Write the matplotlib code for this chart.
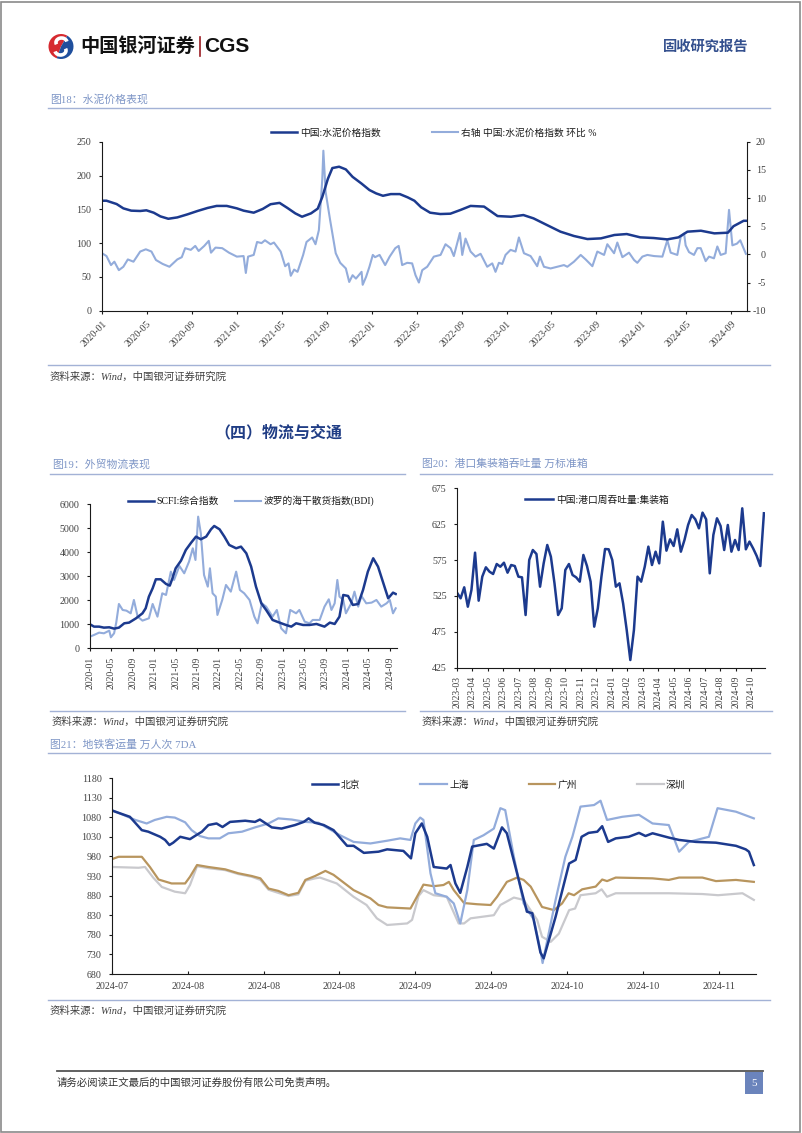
import matplotlib
matplotlib.use('Agg')
import matplotlib.pyplot as plt
from matplotlib.patches import Rectangle, Wedge, Arc
from matplotlib.lines import Line2D

plt.rcParams['font.family'] = ['Liberation Serif', 'Noto Sans CJK SC']
plt.rcParams['axes.unicode_minus'] = False

# ---------------- data ----------------
# fig 18: cement price index (months since 2020-01) and week-on-week change %
cement_idx = [(0, 162.7), (0.4, 162.7), (1.3, 157.8), (1.9, 151.4), (2.6, 148), (3.4, 147.5), (3.95, 148.5),
              (4.6, 145), (5.2, 139.5), (5.9, 136), (6.7, 138), (7.6, 142.5), (8.5, 147.5), (9.4, 152),
              (10.2, 155), (11.1, 155), (12.0, 151.4), (12.6, 148), (13.5, 145), (14.3, 150.5), (15, 157.5),
              (15.8, 159.5), (16.5, 152), (17.2, 144), (17.8, 139), (18.6, 144), (19.2, 151), (19.6, 168),
              (20.1, 195), (20.5, 211), (21.1, 213), (21.7, 209), (22.3, 198), (23.1, 188), (23.8, 178.5),
              (24.4, 173.5), (25, 170), (25.7, 172.5), (26.5, 172.5), (27.2, 167.7), (27.8, 162.7), (28.4, 153),
              (29.2, 145), (30.1, 143), (31, 143.5), (31.9, 149), (32.8, 155), (34, 154), (35.2, 140),
              (36.4, 139), (37.5, 141.5), (38.4, 136.6), (39.6, 126.7), (40.8, 116.9), (42, 110.5), (43.2, 106),
              (44.4, 107), (45.6, 112), (46.7, 113.4), (47.9, 108.5), (49.1, 107.5), (50.3, 105.5), (51.3, 108.5),
              (52.1, 116.9), (53.3, 118.3), (54.5, 114.4), (55.7, 115.4), (56.2, 125), (57.1, 133), (57.4, 133)]
cement_mom = [(0, 0.2), (0.4, -0.3), (0.8, -1.9), (1.1, -1.3), (1.5, -2.8), (1.9, -2.2), (2.3, -0.9), (2.8, -1.3),
              (3.4, 0.5), (3.9, 0.9), (4.4, 0.5), (4.8, -1.0), (5.4, -1.7), (6.0, -2.2), (6.7, -0.9), (7.1, -0.5),
              (7.4, 1.1), (7.9, 0.8), (8.3, 1.5), (8.6, 0.6), (9.1, 1.5), (9.5, 2.4), (9.7, 0.3), (10.1, 1.2),
              (10.7, 1.1), (11.3, 0.3), (12, -0.4), (12.6, -0.3), (12.8, -3.3), (13, -0.4), (13.5, -0.1),
              (13.8, 2.2), (14.2, 2.0), (14.5, 2.5), (15, 1.8), (15.3, 2.1), (15.9, 0.5), (16.3, -2.1),
              (16.6, -1.6), (16.8, -3.8), (17.1, -2.7), (17.4, -3.1), (17.9, -0.1), (18.2, 2.2), (18.7, 3.0),
              (19, 1.8), (19.3, 4.3), (19.6, 13.2), (19.7, 18.4), (19.9, 11.1), (20.3, 6.1), (20.8, 0.2),
              (21.2, -1.5), (21.7, -2.5), (22, -4.9), (22.3, -3.7), (22.6, -4.3), (23.1, -3.1), (23.2, -5.4),
              (23.5, -4.0), (23.8, -2.2), (24.1, -0.1), (24.3, -0.5), (24.7, -0.1), (25.2, -1.9), (25.6, -0.4),
              (26.1, 1.1), (26.4, 1.5), (26.56, -0.1), (26.71, -1.9), (27.16, -1.5), (27.6, -1.6), (27.9, -3.7),
              (28.2, -5.0), (28.5, -2.8), (28.94, -2.2), (29.53, -0.4), (30.13, -0.1), (30.57, 1.8), (31.02, 1.1),
              (31.31, -0.3), (31.85, 3.8), (32.06, -0.1), (32.35, 2.8), (32.8, 0.5), (33.24, -0.4), (33.69, 0.1),
              (34.28, -2.2), (34.73, -1.6), (35.02, -3.1), (35.32, -1.5), (35.62, -1.7), (35.91, -0.1),
              (36.36, 0.8), (36.8, 0.5), (37.1, 3.0), (37.55, 0.2), (38.14, -0.3), (38.73, -2.1), (38.97, -0.4),
              (39.33, -2.2), (39.92, -2.5), (40.52, -2.2), (41.11, -1.9), (41.41, -2.2), (42.0, -1.3),
              (42.6, -0.1), (43.04, -0.9), (43.64, -2.1), (44.08, 0.5), (44.68, -0.1), (44.97, 1.8), (45.57, 0.2),
              (45.86, 2.1), (46.31, -0.5), (46.9, 0.3), (47.35, -1.0), (47.64, -1.5), (48.09, -0.4), (48.53, -0.1),
              (49.13, -0.3), (49.87, -0.4), (50.31, 2.5), (50.61, 0.3), (51.2, -0.1), (51.5, 3.1), (51.8, 3.7),
              (51.94, 1.6), (52.24, 0.4), (52.68, -0.1), (52.98, 1.1), (53.28, 1.1), (53.72, -1.2), (54.02, -0.4),
              (54.46, -0.7), (54.76, 1.4), (55.06, -0.1), (55.5, 0.2), (55.8, 7.9), (56.1, 1.6), (56.5, 1.9),
              (56.8, 2.5), (57.3, 0.1)]
month_ticks = ['2020-01', '2020-05', '2020-09', '2021-01', '2021-05', '2021-09', '2022-01', '2022-05',
               '2022-09', '2023-01', '2023-05', '2023-09', '2024-01', '2024-05', '2024-09']

# fig 19: SCFI and BDI (months since 2020-01)
scfi = [(0, 1000), (0.75, 903), (1.7, 903), (2.6, 861), (3.6, 875), (4.5, 820), (5.4, 861), (6.4, 1042),
        (7.3, 1070), (8.6, 1250), (9.8, 1458), (10.4, 1667), (11, 2153), (11.7, 2500), (12.3, 2875),
        (13.2, 2875), (14.2, 2681), (14.9, 2611), (15.4, 2917), (16, 3333), (17, 3653), (17.9, 4097),
        (18.9, 4403), (19.8, 4653), (20.7, 4542), (21.7, 4653), (22.6, 4958), (23.2, 5097), (24.2, 4958),
        (25.1, 4653), (26, 4306), (27.3, 4167), (28.2, 4236), (29.2, 3958), (30.1, 3403), (31, 2570),
        (32, 1875), (32.9, 1597), (34.1, 1181), (35.4, 1070), (36.6, 972), (37.6, 903), (38.5, 1042),
        (39.8, 972), (41, 972), (42.3, 1014), (43.8, 903), (44.8, 1070), (45.7, 1014), (46.6, 1319),
        (47.3, 2222), (48.2, 2181), (49.1, 1806), (50.1, 1847), (51, 2431), (51.9, 3194), (52.9, 3750),
        (53.8, 3403), (54.7, 2778), (55.7, 2083), (56.6, 2319), (57.1, 2264)]
bdi = [(0, 486), (0.75, 556), (1.7, 653), (2.6, 625), (3.6, 736), (3.9, 458), (4.5, 625), (4.9, 1070),
       (5.4, 1847), (6.1, 1597), (6.8, 1569), (7.6, 1458), (8.2, 2014), (8.9, 1319), (9.8, 1153), (11, 1250),
       (11.7, 1847), (12.6, 1319), (13.5, 2292), (14.2, 2222), (15.1, 3194), (15.7, 2847), (16.7, 3431),
       (17.6, 3125), (18.5, 3611), (19.2, 4167), (19.7, 3681), (20.2, 5486), (20.7, 4792), (21.3, 3056),
       (22, 2569), (22.4, 3333), (22.9, 2292), (23.5, 2153), (23.8, 1389), (24.7, 2014), (25.4, 2639),
       (26.3, 2361), (27.3, 3194), (28, 2431), (28.8, 2292), (29.8, 2014), (30.7, 1319), (31.3, 1042),
       (32.1, 1875), (32.9, 1736), (34.1, 1319), (34.9, 1597), (35.7, 833), (36.6, 625), (37.4, 1597),
       (38.5, 1458), (39.1, 1597), (40.1, 1111), (41, 1042), (41.6, 1181), (42.9, 1181), (43.8, 1736),
       (44.6, 2042), (45.1, 1597), (45.7, 1875), (46.2, 2847), (46.6, 2153), (47.3, 2014), (47.8, 1458),
       (48.8, 1875), (49.4, 2361), (50.1, 1736), (50.7, 2181), (51.6, 1875), (52.6, 1903), (53.5, 2014),
       (54.4, 1736), (55.4, 1875), (56, 2014), (56.6, 1458), (57.1, 1667)]

# fig 20: weekly container throughput, 2023-03 .. 2024-10
port_weekly = [529.6, 521.7, 537.0, 510.0, 533.3, 585.3, 518.4, 551.9, 564.9, 558.8, 555.6, 569.5, 565.7,
               571.3, 557.4, 568.1, 566.7, 551.9, 550.9, 498.4, 575.1, 589.0, 583.5, 537.9, 570.4, 596.0,
               579.7, 542.6, 498.4, 507.7, 561.2, 569.5, 554.2, 550.9, 544.9, 582.1, 566.7, 544.9, 482.2,
               507.7, 551.9, 590.4, 590.0, 575.1, 537.9, 542.6, 514.7, 477.5, 435.7, 477.5, 551.9, 544.9,
               565.8, 593.7, 568.1, 586.7, 570.4, 628.5, 588.1, 603.9, 594.6, 617.8, 586.7, 603.0, 623.9,
               637.8, 631.8, 619.2, 641.1, 631.8, 556.5, 610.0, 633.2, 622.5, 589.0, 623.9, 586.7, 603.0,
               589.0, 647.1, 590.0, 600.7, 591.4, 580.7, 566.7, 640.2]
port_ticks = ['2023-03', '2023-04', '2023-05', '2023-06', '2023-07', '2023-08', '2023-09', '2023-10',
              '2023-11', '2023-12', '2024-01', '2024-02', '2024-03', '2024-04', '2024-05', '2024-06',
              '2024-07', '2024-08', '2024-09', '2024-10']

# fig 21: metro ridership 7DA (days from first point)
beijing = [(0, 1097), (3.3, 1081), (5.5, 1047), (6.7, 1043), (8.9, 1030), (9.8, 1022), (10.6, 1009),
           (11.3, 1015), (12.6, 1030), (14.4, 1024), (15.3, 1032), (16.6, 1043), (17.8, 1060), (19.3, 1064),
           (20.4, 1055), (21.8, 1068), (24.6, 1071), (26.4, 1068), (27.3, 1074), (28.3, 1065), (29.5, 1054),
           (31.3, 1051), (33.8, 1060), (35.4, 1068), (36.3, 1077), (37.4, 1066), (39.1, 1060), (40.9, 1047),
           (43.4, 1007), (44.6, 1007), (46.5, 989), (49.2, 992), (50.8, 998), (53.8, 994), (55.2, 975),
           (56, 1039), (57.2, 1064), (58.2, 1030), (59.4, 953), (61.8, 949), (62.5, 958), (63.4, 911),
           (64.3, 887), (65.6, 953), (66.5, 1005), (69.2, 1012), (70.5, 1000), (72, 1054), (72.9, 1039),
           (75.1, 920), (76.6, 839), (77.6, 835), (79.1, 735), (79.7, 720), (81.9, 826), (84.4, 962),
           (85.6, 971), (86.7, 1030), (88, 1040), (89.6, 1043), (90.5, 1057), (91.6, 1017), (93, 1026),
           (95.4, 1030), (97.3, 1040), (98.5, 1032), (99.8, 1039), (102.8, 1028), (104.7, 1022), (107.8, 1017),
           (111.5, 1015), (115.2, 1007), (117, 998), (117.6, 992), (118.5, 958)]
shanghai = [(0, 1098), (4.3, 1073), (6.4, 1064), (7.9, 1073), (10.1, 1081), (11.6, 1079), (13.5, 1067),
            (14.7, 1047), (16.2, 1032), (17.8, 1026), (19.9, 1026), (21.5, 1039), (24, 1043), (26.4, 1054),
            (28.9, 1064), (30.7, 1077), (33.2, 1074), (35.7, 1068), (38.1, 1066), (42.1, 1034), (44.6, 1017),
            (47.7, 1013), (50.8, 1020), (53.2, 1026), (55.1, 1022), (56, 1064), (56.9, 1079), (57.5, 1073),
            (58.8, 937), (59.7, 886), (61.8, 877), (63.1, 860), (64.3, 809), (65.6, 894), (66.8, 1022),
            (68.6, 1034), (70.5, 1051), (71.7, 1103), (72.6, 1098), (74.2, 979), (76, 860), (77.9, 818),
            (79.1, 740), (79.5, 708), (81.9, 869), (83.7, 979), (85, 1030), (86.5, 1107), (89, 1111),
            (90.2, 1122), (91.4, 1073), (94.2, 1081), (97.3, 1086), (99.8, 1064), (102.8, 1060), (104.7, 992),
            (106.5, 1017), (110.2, 1030), (111.8, 1103), (115.2, 1094), (118.5, 1077)]
guangzhou = [(0, 973), (1.2, 979), (5.5, 979), (7, 953), (8.6, 921), (11, 911), (13.5, 911), (14.4, 928),
             (15.7, 958), (17.8, 953), (20.9, 947), (23.3, 937), (25.8, 930), (27.4, 924), (28.9, 898),
             (30.7, 892), (32.6, 881), (34.4, 887), (35.7, 920), (37.5, 930), (39.4, 943), (40.9, 933),
             (44.6, 894), (47.7, 873), (49.2, 856), (50.8, 850), (55.1, 847), (56.3, 877), (57.5, 908),
             (59.4, 904), (61.2, 907), (62.2, 915), (63.1, 894), (65, 861), (67.4, 858), (69.9, 856),
             (71.1, 877), (72.9, 915), (74.8, 926), (76, 920), (77.3, 903), (79.4, 851), (81.6, 843),
             (83.1, 860), (84.3, 886), (85.3, 881), (86.8, 896), (89.3, 903), (90.5, 921), (91.4, 917),
             (93, 926), (99.8, 924), (102.8, 920), (104.7, 926), (109, 926), (111.5, 917), (115.2, 920),
             (118.5, 915)]
shenzhen = [(0, 953), (4.9, 951), (6.1, 953), (7.6, 926), (9.2, 902), (11.6, 890), (13.5, 886), (14.4, 907),
            (15.7, 955), (17.8, 950), (20.9, 945), (23.3, 935), (25.8, 928), (27.4, 920), (28.9, 895),
            (30.7, 887), (32.6, 879), (34.4, 883), (35.7, 918), (37.5, 924), (38.4, 926), (41.5, 911),
            (44.6, 877), (47, 856), (48.9, 822), (50.8, 805), (54.5, 809), (55.4, 818), (56.6, 879),
            (57.5, 894), (59.4, 881), (61.8, 877), (64, 809), (65, 809), (66.2, 822), (70.5, 830),
            (71.7, 856), (74.2, 875), (76, 869), (78.5, 818), (79.4, 775), (81, 762), (82.5, 783),
            (84.4, 843), (85.5, 847), (86.5, 881), (89.3, 886), (90.4, 896), (91.4, 877), (93, 886),
            (102.8, 886), (109, 884), (111.9, 881), (116.4, 886), (118.5, 869)]
metro_ticks = ['2024-07', '2024-08', '2024-08', '2024-08', '2024-09', '2024-09', '2024-10', '2024-10', '2024-11']

# ---------------- layout helpers ----------------
W, H = 802, 1133
NAVY = '#1c3a8e'
LIGHT = '#93acdb'
GOLD = '#b8955e'
GRAY = '#c9c9cd'
TITLE_C = '#7d95c6'
RULE_C = '#a3b2d6'
TXT = '#404040'


def box(l, t, r, b):
    return [l / W, 1 - b / H, (r - l) / W, (b - t) / H]


def fx(x):
    return x / W


def fy(y):
    return 1 - y / H


def hline(fig, y, x0, x1, color=RULE_C, lw=1.0):
    fig.add_artist(Line2D([fx(x0), fx(x1)], [fy(y), fy(y)], color=color, lw=lw))


def unzip(pairs):
    return [p[0] for p in pairs], [p[1] for p in pairs]


def base_style(ax):
    for s in ['top', 'right']:
        ax.spines[s].set_visible(False)
    for s in ['left', 'bottom']:
        ax.spines[s].set_color('#1a1a1a')
        ax.spines[s].set_linewidth(0.8)
    ax.tick_params(axis='both', colors='#1a1a1a', labelcolor=TXT, labelsize=7.2,
                   length=2.5, width=0.8, direction='out')
    ax.tick_params(axis='y', pad=5)
    ax.patch.set_alpha(0)


def legend_at(ax, handles, labels, x, y, ncol, colsp, hl=2.7):
    ax.legend(handles, labels, loc='center left', bbox_to_anchor=(fx(x), fy(y)),
              bbox_transform=ax.figure.transFigure, ncol=ncol, frameon=False,
              fontsize=7, borderpad=0, borderaxespad=0, handlelength=hl,
              handletextpad=0.25, columnspacing=colsp, labelcolor='#1a1a1a')


fig = plt.figure(figsize=(8.02, 11.33), dpi=100)

# page frame
fig.add_artist(Rectangle((0.6 / W, 1.5 / H), 799.5 / W, 1130 / H, transform=fig.transFigure,
                         fill=False, edgecolor='#8a8a8a', lw=1.2))

# ---------------- header ----------------
lax = fig.add_axes(box(46, 33, 76, 60))
lax.set_xlim(0, 30)
lax.set_ylim(0, 27)
lax.set_aspect('equal')
lax.axis('off')
lax.add_patch(Wedge((15, 13.5), 12.5, 60, 250, fc='#d62a30', ec='none'))
lax.add_patch(Wedge((15, 13.5), 12.5, -110, 60, fc='#1f4f9d', ec='none'))
lax.add_patch(Arc((15.5, 17.5), 11, 9, theta1=10, theta2=200, color='white', lw=2.6))
lax.add_patch(Arc((14.5, 9.5), 11, 9, theta1=190, theta2=380, color='white', lw=2.6))

fig.text(fx(80), fy(46), '中国银河证券', fontsize=13.8, weight='bold', family='Noto Sans CJK SC',
         color='#111111', va='center')
hline_bar = Line2D([fx(200), fx(200)], [fy(37), fy(56)], color='#9b1c22', lw=1.2)
fig.add_artist(hline_bar)
fig.text(fx(204), fy(46.5), 'CGS', fontsize=15, weight='bold', family='Liberation Sans',
         color='#111111', va='center')
fig.text(fx(748), fy(47), '固收研究报告', fontsize=10.3, weight='bold', family='Noto Sans CJK SC',
         color='#34508e', va='center', ha='right')

# ---------------- fig 18 ----------------
fig.text(fx(50), fy(99), '图18：水泥价格表现', fontsize=7.8, color=TITLE_C, va='center')
hline(fig, 108, 48, 770)

ax1 = fig.add_axes(box(102, 141.7, 747, 310.7))
ax2 = ax1.twinx()
mx, mv = unzip(cement_mom)
l2, = ax2.plot(mx, mv, color=LIGHT, lw=1.5)
cx, cv = unzip(cement_idx)
l1, = ax1.plot(cx, cv, color=NAVY, lw=1.8)
ax1.set_zorder(ax2.get_zorder() + 1)
base_style(ax1)
ax1.set_xlim(0, 57.4)
ax1.set_ylim(0, 250)
ax1.set_yticks(range(0, 251, 50))
ax1.set_xticks(range(0, 57, 4))
ax1.set_xticklabels(month_ticks, rotation=45, ha='right', va='top', rotation_mode='anchor', fontsize=7)
ax2.set_ylim(-10, 20)
ax2.set_yticks(range(-10, 21, 5))
for s in ['top', 'left', 'bottom']:
    ax2.spines[s].set_visible(False)
ax2.spines['right'].set_color('#1a1a1a')
ax2.spines['right'].set_linewidth(0.8)
ax2.tick_params(axis='y', colors='#1a1a1a', labelcolor=TXT, labelsize=7.2, length=2.5, width=0.8,
                direction='out', pad=11)
for lab in ax2.get_yticklabels():
    lab.set_ha('right')
legend_at(ax1, [l1, l2], ['中国:水泥价格指数', '右轴 中国:水泥价格指数 环比 %'], 271, 133, 2, 5.3)

hline(fig, 365, 48, 770)
fig.text(fx(50), fy(377), '资料来源：Wind，中国银河证券研究院', fontsize=7.5, color=TXT, va='center',
         style='italic')

# section heading
fig.text(fx(214), fy(432), '（四）物流与交通', fontsize=11.5, weight='bold', family='Noto Sans CJK SC',
         color='#203d85', va='center')

# ---------------- fig 19 ----------------
fig.text(fx(52), fy(464), '图19：外贸物流表现', fontsize=7.8, color=TITLE_C, va='center')
hline(fig, 474, 50, 405)
ax3 = fig.add_axes(box(90, 504.3, 397.3, 648.3))
bx, bv = unzip(bdi)
sx, sv = unzip(scfi)
lb, = ax3.plot(bx, bv, color=LIGHT, lw=1.5)
ls, = ax3.plot(sx, sv, color=NAVY, lw=1.8)
base_style(ax3)
ax3.set_xlim(0, 57.4)
ax3.set_ylim(0, 6000)
ax3.set_yticks(range(0, 6001, 1000))
ax3.set_xticks(range(0, 57, 4))
ax3.set_xticklabels(month_ticks, rotation=90, ha='center', va='top', fontsize=7)
legend_at(ax3, [ls, lb], ['SCFI:综合指数', '波罗的海干散货指数(BDI)'], 128, 501, 2, 1.6)
hline(fig, 711, 50, 405)
fig.text(fx(52), fy(722), '资料来源：Wind，中国银河证券研究院', fontsize=7.5, color=TXT, va='center',
         style='italic')

# ---------------- fig 20 ----------------
fig.text(fx(422), fy(464), '图20：港口集装箱吞吐量 万标准箱', fontsize=7.8, color=TITLE_C, va='center')
hline(fig, 474, 420, 772)
ax4 = fig.add_axes(box(457, 488.3, 765, 667.7))
lp, = ax4.plot(range(len(port_weekly)), port_weekly, color=NAVY, lw=1.8)
base_style(ax4)
ax4.set_xlim(0, 85.3)
ax4.set_ylim(425, 675)
ax4.set_yticks(range(425, 676, 50))
ax4.set_xticks([k * 4.29 for k in range(len(port_ticks))])
ax4.set_xticklabels(port_ticks, rotation=90, ha='center', va='top', fontsize=7)
legend_at(ax4, [lp], ['中国:港口周吞吐量:集装箱'], 525, 500, 1, 1.0, hl=2.9)
hline(fig, 711, 420, 772)
fig.text(fx(422), fy(722), '资料来源：Wind，中国银河证券研究院', fontsize=7.5, color=TXT, va='center',
         style='italic')

# ---------------- fig 21 ----------------
fig.text(fx(50), fy(744), '图21：地铁客运量 万人次 7DA', fontsize=7.8, color=TITLE_C, va='center')
hline(fig, 753, 48, 770)
ax5 = fig.add_axes(box(112, 778, 756, 974))
handles = {}
for name, series, col, lw in [('深圳', shenzhen, GRAY, 1.6), ('广州', guangzhou, GOLD, 1.6),
                              ('上海', shanghai, LIGHT, 1.6), ('北京', beijing, NAVY, 1.8)]:
    dx, dv = unzip(series)
    handles[name], = ax5.plot(dx, dv, color=col, lw=lw)
base_style(ax5)
ax5.set_xlim(0, 118.9)
ax5.set_ylim(680, 1180)
ax5.set_yticks(range(680, 1181, 50))
ax5.set_xticks(range(0, 113, 14))
ax5.set_xticklabels(metro_ticks, fontsize=7.2)
ax5.tick_params(axis='x', direction='in', pad=6)
order = ['北京', '上海', '广州', '深圳']
legend_at(ax5, [handles[k] for k in order], order, 312, 785, 4, 6.2)
hline(fig, 1000, 48, 770)
fig.text(fx(50), fy(1011), '资料来源：Wind，中国银河证券研究院', fontsize=7.5, color=TXT, va='center',
         style='italic')

# ---------------- footer ----------------
hline(fig, 1071, 57, 763, color='#555555', lw=1.3)
fig.text(fx(57), fy(1083), '请务必阅读正文最后的中国银河证券股份有限公司免责声明。', fontsize=7.5,
         color='#333333', va='center')
fig.add_artist(Rectangle((fx(745), fy(1094)), 18 / W, 22 / H, transform=fig.transFigure,
                         fc='#6b84bc', ec='none'))
fig.text(fx(754), fy(1083), '5', fontsize=8, color='white', ha='center', va='center')

fig.savefig('out.png', dpi=100)
